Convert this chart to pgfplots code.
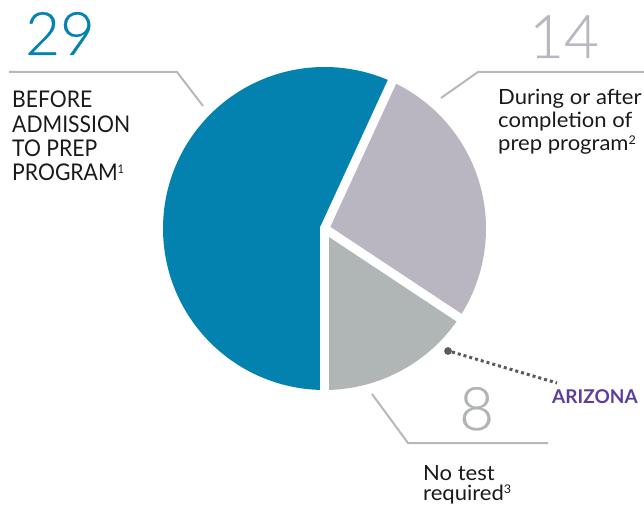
\documentclass[border=0pt]{standalone}
\usepackage{pgfplots}
\pgfplotsset{compat=1.18}
\usepackage{pgfplotstable}
\usepackage{fontspec}
\setmainfont{Lato}
\newfontfamily\lightfont[FakeBold=0.4]{Lato Light}
\newfontfamily\capsfont[FakeStretch=0.92]{Lato}
\newfontfamily\lowfont[FakeStretch=1.05]{Lato}

\definecolor{pieblue}{HTML}{0382B0}
\definecolor{piepurple}{HTML}{B9B6C1}
\definecolor{piegreen}{HTML}{B0B6B5}
\definecolor{leader}{HTML}{B5BAB9}
\definecolor{arizona}{HTML}{5B3E9E}
\definecolor{dotgrey}{HTML}{5A5A5A}
\definecolor{numfourteen}{HTML}{B9B7C0}
\definecolor{numeight}{HTML}{B0B5B4}
\definecolor{txt}{HTML}{1A1A1A}

\newcommand\supnum[2]{\raisebox{#1}{\fontsize{12}{12}\selectfont #2}}

\pgfplotstableread{
label value
before 29
during 14
none 8
}\piedata
\pgfplotstablegetelem{0}{value}\of\piedata \edef\va{\pgfplotsretval}
\pgfplotstablegetelem{1}{value}\of\piedata \edef\vb{\pgfplotsretval}
\pgfplotstablegetelem{2}{value}\of\piedata \edef\vc{\pgfplotsretval}
\pgfmathsetmacro\tot{\va+\vb+\vc}
\pgfmathsetmacro\aA{-90}
\pgfmathsetmacro\aB{-90+360*\vc/\tot}
\pgfmathsetmacro\aC{\aB+360*\vb/\tot}
\pgfmathsetmacro\aD{270}
\def\cx{324.5}
\def\cy{277.5}
\def\R{161.5}

\begin{document}
\begin{tikzpicture}
\begin{axis}[
  scale only axis, width=644pt, height=506pt,
  xmin=0, xmax=644, ymin=0, ymax=506,
  hide axis, clip=false,
]
% slices
\addplot[fill=piegreen, draw=none, domain=\aA:\aB, samples=60, variable=\t]
  ({\cx+\R*cos(\t)},{\cy+\R*sin(\t)}) -- (axis cs:\cx,\cy) -- cycle;
\addplot[fill=piepurple, draw=none, domain=\aB:\aC, samples=80, variable=\t]
  ({\cx+\R*cos(\t)},{\cy+\R*sin(\t)}) -- (axis cs:\cx,\cy) -- cycle;
\addplot[fill=pieblue, draw=none, domain=\aC:\aD, samples=150, variable=\t]
  ({\cx+\R*cos(\t)},{\cy+\R*sin(\t)}) -- (axis cs:\cx,\cy) -- cycle;
% separators
\addplot[white, line width=9pt, line cap=round, domain=0:168, samples=2, variable=\s]
  ({\cx+\s*cos(\aA)},{\cy+\s*sin(\aA)});
\addplot[white, line width=9pt, line cap=round, domain=0:168, samples=2, variable=\s]
  ({\cx+\s*cos(\aB)},{\cy+\s*sin(\aB)});
\addplot[white, line width=9pt, line cap=round, domain=0:168, samples=2, variable=\s]
  ({\cx+\s*cos(\aC)},{\cy+\s*sin(\aC)});
% leader lines
\addplot[leader, line width=2pt] coordinates {(9,434) (177,434) (203,400)};
\addplot[leader, line width=2pt] coordinates {(441,408) (478,434) (644,434)};
\addplot[leader, line width=2pt] coordinates {(372,112) (408,63) (548,63)};
% Arizona marker
\addplot[dotgrey, line width=3pt, dash pattern=on 3pt off 3pt] coordinates {(452,154) (557,123)};
\addplot[only marks, mark=*, mark size=3.6pt, color=dotgrey] coordinates {(448,155)};

% numbers
\node[anchor=base west, inner sep=0pt, text=pieblue, font=\lightfont\fontsize{60}{60}\selectfont] at (axis cs:25,451) {29};
\node[anchor=base west, inner sep=0pt, text=numfourteen, font=\lightfont\fontsize{60}{60}\selectfont] at (axis cs:529,448) {14};
\node[anchor=base west, inner sep=0pt, text=numeight, font=\lightfont\fontsize{60}{60}\selectfont] at (axis cs:459,76) {8};

% labels
\begin{scope}[every node/.style={anchor=base west, inner sep=0pt, text=txt, font=\capsfont\fontsize{23}{23}\selectfont}]
\node at (axis cs:12,398) {BEFORE};
\node at (axis cs:12,373) {ADMISSION};
\node at (axis cs:12,349) {TO PREP};
\node at (axis cs:12,325) {PROGRAM\supnum{7.5pt}{1}};
\end{scope}
\begin{scope}[every node/.style={anchor=base west, inner sep=0pt, text=txt, font=\lowfont\fontsize{21}{21}\selectfont}]
\node at (axis cs:498,401) {During or after};
\node at (axis cs:498,378) {completion of};
\node at (axis cs:498,355) {prep program\supnum{6.5pt}{2}};
\node at (axis cs:423,26) {No test};
\node at (axis cs:423,6) {required\supnum{6.5pt}{3}};
\end{scope}
\node[anchor=base west, inner sep=0pt, text=arizona, font=\bfseries\fontsize{19}{19}\selectfont] at (axis cs:552,103) {ARIZONA};

\coordinate (bbl) at (axis cs:0,0);
\coordinate (btr) at (axis cs:644,506);
\end{axis}
\pgfresetboundingbox
\useasboundingbox (bbl) rectangle (btr);
\end{tikzpicture}
\end{document}
